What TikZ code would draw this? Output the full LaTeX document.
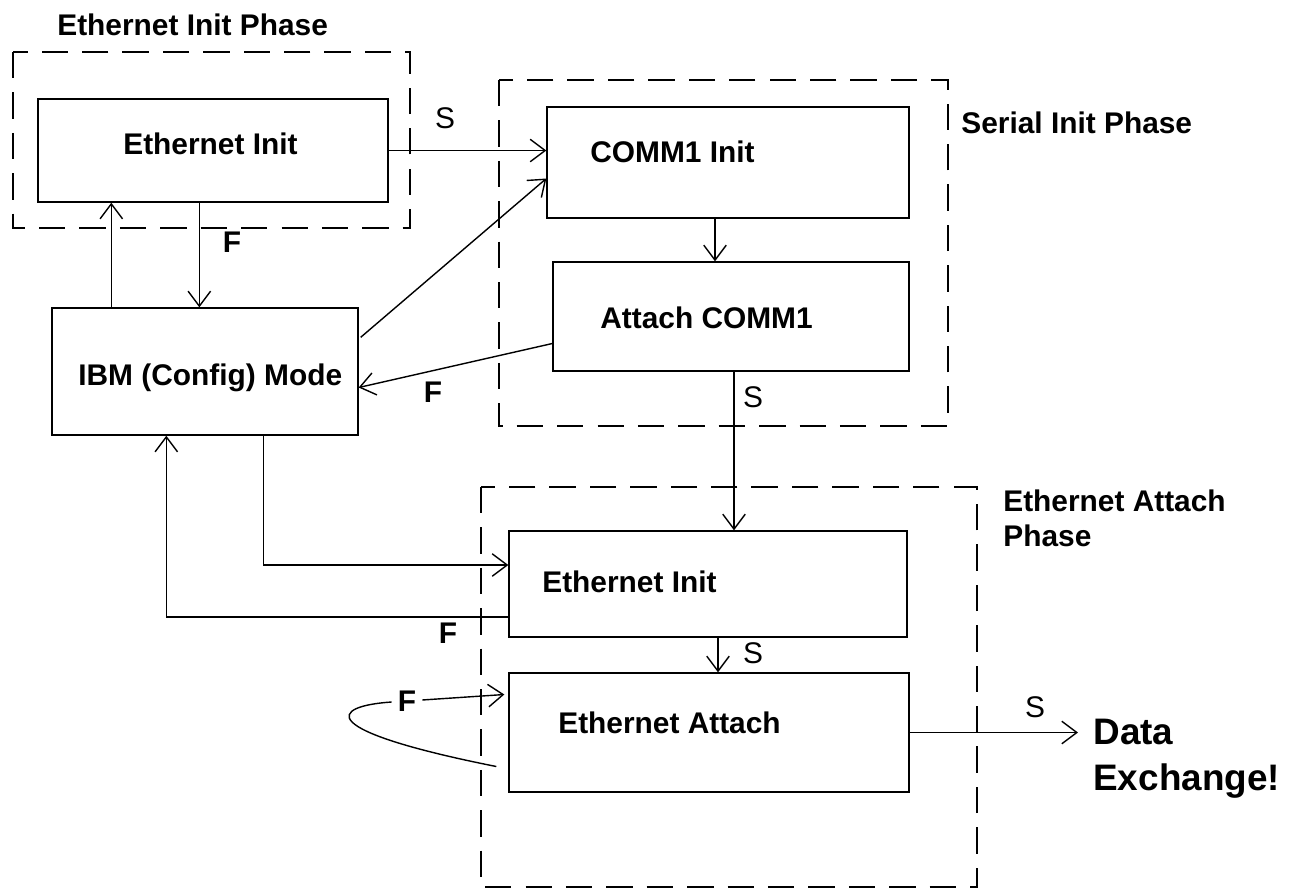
\documentclass[tikz,border=0pt]{standalone}
\usepackage{fontspec}
\setmainfont{Liberation Sans}
\usetikzlibrary{arrows.meta,calc}
\tikzset{
  blockbox/.style={draw, line width=0.8pt, inner sep=0pt},
  phasebox/.style={draw, line width=0.8pt, dash pattern=on 15pt off 8pt},
  flow/.style={line width=0.8pt, -{Straight Barb[length=3mm,width=4.5mm]}},
  boxtext/.style={anchor=base west, inner sep=0pt, font=\fontsize{17}{20}\selectfont\bfseries},
  phasetext/.style={inner sep=0pt, align=left, font=\fontsize{17}{20}\selectfont\bfseries},
  failtext/.style={font=\fontsize{17}{20}\selectfont\bfseries},
  succtext/.style={font=\fontsize{17}{20}\selectfont},
}
\begin{document}
\begin{tikzpicture}[x=0.02cm, y=-0.02cm]
			\useasboundingbox (0,0) rectangle (1297,890);
			%phases
			\draw[phasebox] (13,52) rectangle (410,228);
			\draw[phasebox] (499,80) rectangle (948,426);
			\draw[phasebox] (481,487) rectangle (977,887);
			\node[phasetext, anchor=west] (initphase) at (57,25) {Ethernet Init Phase};
			\node[phasetext, anchor=west] (serialphase) at (961,123) {Serial Init Phase};
			\node[phasetext, anchor=north west] (attachphase) at (1003,489) {Ethernet Attach\\Phase};
			
			%blocks
			\node[blockbox, minimum width=7cm, minimum height=2.06cm] (ethinit) at (213,150.5) {};
			\node[blockbox, minimum width=6.12cm, minimum height=2.54cm] (ibm) at (205,371.5) {};
			\node[blockbox, minimum width=7.24cm, minimum height=2.22cm] (comm) at (728,162.5) {};
			\node[blockbox, minimum width=7.12cm, minimum height=2.18cm] (attach) at (731,316.5) {};
			\node[blockbox, minimum width=7.96cm, minimum height=2.12cm] (ethinit2) at (708,584) {};
			\node[blockbox, minimum width=8cm, minimum height=2.38cm] (ethatt) at (709,732.5) {};
			\node[boxtext] (ethinittxt) at (123,154) {Ethernet Init};
			\node[boxtext] (ibmtxt) at (78,385) {IBM (Config) Mode};
			\node[boxtext] (commtxt) at (590,162) {COMM1 Init};
			\node[boxtext] (attachtxt) at (600,328) {Attach COMM1};
			\node[boxtext] (ethinit2txt) at (542,592) {Ethernet Init};
			\node[boxtext] (ethatttxt) at (558,733) {Ethernet Attach};
			\node[anchor=north west, inner xsep=0.3cm, inner ysep=0pt, align=left,
			      font=\fontsize{21}{26}\selectfont\bfseries] (dx) at (1078,719) {Data\\Exchange!};
			
			%labels
			\node[succtext] (s1) at (445,118) {S};
			\node[failtext] (f1) at (232,242) {F};
			\node[failtext] (f2) at (433,392) {F};
			\node[succtext] (s2) at (753,397) {S};
			\node[failtext] (f3) at (448,633) {F};
			\node[succtext] (s3) at (753,653) {S};
			\node[failtext] (floop) at (407,701) {F};
			\node[succtext] (s4) at (1035,707) {S};
			
			%connectors
			\draw[flow] (ethinit.east) -- (ethinit.east -| comm.west);
			\path (ibm.north west) ++(60,0) coordinate (ibmup) ++(88,0) coordinate (ibmdown);
			\draw[flow] (ibmup) -- (ibmup |- ethinit.south);
			\draw[flow] (ibmdown |- ethinit.south) -- (ibmdown);
			\path (ibm.north east) ++(2,30) coordinate (ibmdiag);
			\path (comm.west) ++(0,16) coordinate (commin);
			\draw[flow] (ibmdiag) -- (commin);
			\path (comm.south) ++(-13,0) coordinate (commdown);
			\draw[flow] (commdown) -- (commdown |- attach.north);
			\path (attach.west) ++(0,27) coordinate (attachout);
			\path (ibm.east) ++(0,16) coordinate (ibmin);
			\draw[flow] (attachout) -- (ibmin);
			\path (attach.south) ++(3,0) coordinate (attachdown);
			\draw[flow] (attachdown) -- (attachdown |- ethinit2.north);
			\path (ibm.south west) ++(212,0) coordinate (ibmout);
			\path (ethinit2.west) ++(0,-19) coordinate (eth2in);
			\draw[flow] (ibmout) |- (eth2in);
			\path (ethinit2.west) ++(0,33) coordinate (eth2out);
			\path (ibm.south west) ++(115,0) coordinate (ibmback);
			\draw[flow] (eth2out) -| (ibmback);
			\path (ethinit2.south) ++(10,0) coordinate (eth2down);
			\draw[flow] (eth2down) -- (eth2down |- ethatt.north);
			\path (ethatt.west) ++(-12,34) coordinate (loopstart);
			\path (ethatt.west) ++(-4,-38) coordinate (loopend);
			\draw[line width=0.8pt] (loopstart) .. controls (313,730) and (330,706) .. (floop);
			\draw[flow] (floop) -- (loopend);
			\draw[flow] (ethatt.east) -- (ethatt.east -| dx.west);
		\end{tikzpicture}
\end{document}
